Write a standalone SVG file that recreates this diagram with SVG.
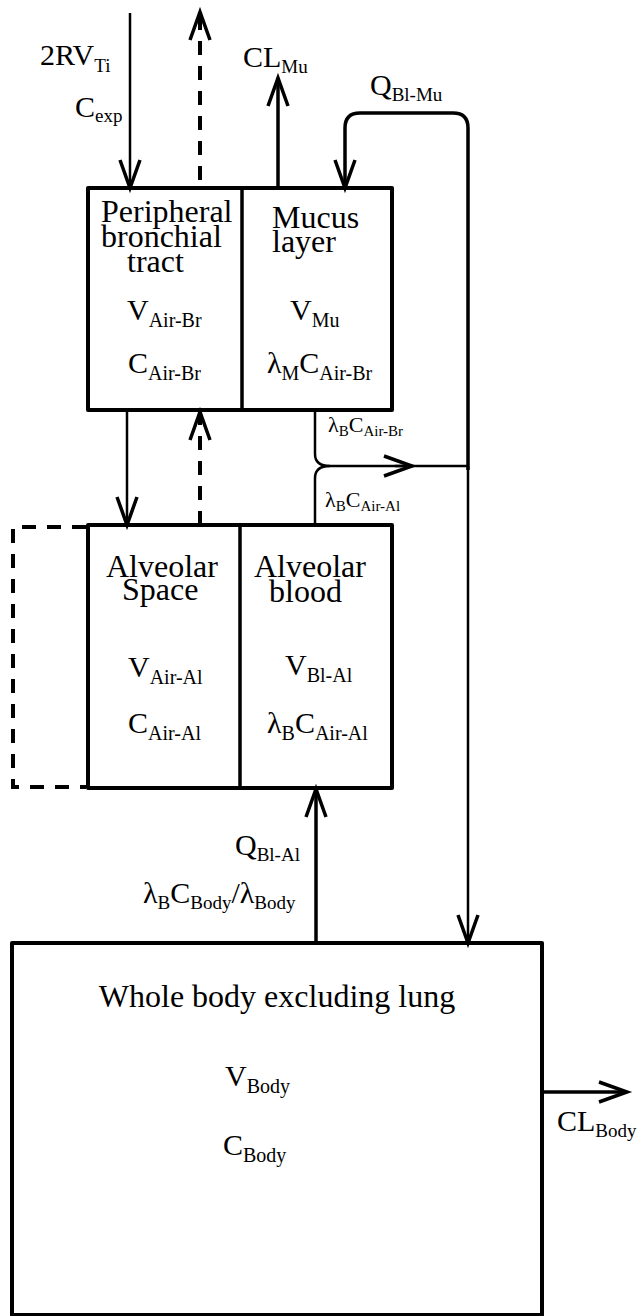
<svg xmlns="http://www.w3.org/2000/svg" width="642" height="1316" viewBox="0 0 642 1316" font-family="'Liberation Serif', 'DejaVu Serif', serif">
  <style>
    .box { fill: none; stroke: #000; stroke-width: 4; stroke-linejoin: round; }
    .div { fill: none; stroke: #000; stroke-width: 3.5; }
    .line { fill: none; stroke: #000; stroke-width: 2.5; }
    .thick { fill: none; stroke: #000; stroke-width: 3.5; }
    .dash { fill: none; stroke: #000; stroke-width: 4; stroke-dasharray: 14 11; }
    text { font-family: 'Liberation Serif', 'DejaVu Serif', serif; fill: #000; }
    .t { font-size: 32px; }
    .v { font-size: 30px; }
    .s { font-size: 20px; }
    .sm { font-size: 22px; }
    .ss { font-size: 15px; }
    .ls { font-size: 19px; }
  </style>
  <defs>
    <marker id="arrow" viewBox="0 0 32 24" markerWidth="32" markerHeight="24" refX="30" refY="12" orient="auto" markerUnits="userSpaceOnUse" overflow="visible">
      <path d="M2,2 L30,12 L2,22" fill="none" stroke="#000" stroke-width="3.5" stroke-linejoin="miter"/>
    </marker>
  </defs>

  <!-- Lung compartments -->
  <g id="node-bronchial">
    <path class="box" d="M242,188 H88 V410 H242"/>
    <text class="t" x="101" y="222">Peripheral</text>
    <text class="t" x="101" y="247">bronchial</text>
    <text class="t" x="127" y="272">tract</text>
    <text class="v" x="127" y="320">V<tspan class="s" dy="7">Air-Br</tspan></text>
    <text class="v" x="128" y="373">C<tspan class="s" dy="7">Air-Br</tspan></text>
  </g>
  <g id="node-mucus">
    <path class="box" d="M242,188 H392 V410 H242"/>
    <line class="div" x1="242" y1="188" x2="242" y2="410"/>
    <text class="t" x="272" y="228">Mucus</text>
    <text class="t" x="272" y="252">layer</text>
    <text class="v" x="290" y="320">V<tspan class="s" dy="7">Mu</tspan></text>
    <text class="v" x="267" y="373">λ<tspan class="s" dy="7">M</tspan><tspan dy="-7">C</tspan><tspan class="s" dy="7">Air-Br</tspan></text>
  </g>
  <g id="node-alveolar-space">
    <path class="box" d="M240,525 H88 V788 H240"/>
    <text class="t" x="106" y="577">Alveolar</text>
    <text class="t" x="122" y="600">Space</text>
    <text class="v" x="128" y="677">V<tspan class="s" dy="7">Air-Al</tspan></text>
    <text class="v" x="128" y="733">C<tspan class="s" dy="7">Air-Al</tspan></text>
  </g>
  <g id="node-alveolar-blood">
    <path class="box" d="M240,525 H392 V788 H240"/>
    <line class="div" x1="240" y1="525" x2="240" y2="788"/>
    <text class="t" x="254" y="577">Alveolar</text>
    <text class="t" x="269" y="602">blood</text>
    <text class="v" x="285" y="675">V<tspan class="s" dy="7">Bl-Al</tspan></text>
    <text class="v" x="267" y="733">λ<tspan class="s" dy="7">B</tspan><tspan dy="-7">C</tspan><tspan class="s" dy="7">Air-Al</tspan></text>
  </g>
  <g id="node-body">
    <rect class="box" x="12" y="943" width="530" height="372"/>
    <text x="277" y="1007" font-size="32" text-anchor="middle">Whole body excluding lung</text>
    <text class="v" x="225" y="1086">V<tspan class="s" dy="7">Body</tspan></text>
    <text class="v" x="223" y="1155">C<tspan class="s" dy="7">Body</tspan></text>
  </g>

  <!-- Connectors -->
  <g id="connectors">
    <!-- inhaled air into the bronchial tract -->
    <path class="line" d="M130,13 V188" marker-end="url(#arrow)"/>
    <!-- exhaled air (dashed) -->
    <path class="dash" d="M200,180 V12" marker-end="url(#arrow)"/>
    <!-- mucus clearance -->
    <path class="thick" d="M278,188 V78" marker-end="url(#arrow)"/>
    <!-- blood flow to mucus and venous return to body -->
    <path class="thick" d="M468,470 V128 Q468,113 453,113 H360 Q345,113 345,128 V188" marker-end="url(#arrow)"/>
    <path class="line" d="M468,466 V943" marker-end="url(#arrow)"/>
    <!-- airflow between bronchial tract and alveoli -->
    <path class="line" d="M127,410 V525" marker-end="url(#arrow)"/>
    <path class="dash" d="M200,525 V412" marker-end="url(#arrow)"/>
    <!-- dead-space loop -->
    <path class="dash" d="M86,527 H13 V787 H86"/>
    <!-- venous outflow of mucus and alveolar blood -->
    <path class="line" d="M315,410 V454 Q315,466 330,466 H468"/>
    <path class="line" d="M315,525 V478 Q315,466 330,466"/>
    <path class="line" d="M395,466 H412" marker-end="url(#arrow)"/>
    <!-- arterial blood to alveoli -->
    <path class="thick" d="M316,943 V789" marker-end="url(#arrow)"/>
    <!-- body clearance -->
    <path class="thick" d="M542,1092 H627" marker-end="url(#arrow)"/>
  </g>

  <!-- Flow labels -->
  <g id="labels">
    <text class="v" x="40" y="65">2RV<tspan class="ls" dy="7">Ti</tspan></text>
    <text class="v" x="75" y="117">C<tspan class="ls" dy="5">exp</tspan></text>
    <text class="v" x="243" y="67">CL<tspan class="ls" dy="6">Mu</tspan></text>
    <text class="v" x="370" y="95">Q<tspan class="ls" dy="6">Bl-Mu</tspan></text>
    <text class="sm" x="328" y="432">λ<tspan class="ss" dy="4">B</tspan><tspan dy="-4">C</tspan><tspan class="ss" dy="4">Air-Br</tspan></text>
    <text class="sm" x="325" y="507">λ<tspan class="ss" dy="4">B</tspan><tspan dy="-4">C</tspan><tspan class="ss" dy="4">Air-Al</tspan></text>
    <text class="v" x="235" y="855">Q<tspan class="ls" dy="6">Bl-Al</tspan></text>
    <text class="v" x="143" y="903">λ<tspan class="ls" dy="6">B</tspan><tspan dy="-6">C</tspan><tspan class="ls" dy="6">Body</tspan><tspan dy="-6">/λ</tspan><tspan class="ls" dy="6">Body</tspan></text>
    <text class="v" x="557" y="1131">CL<tspan class="ls" dy="6">Body</tspan></text>
  </g>
</svg>
